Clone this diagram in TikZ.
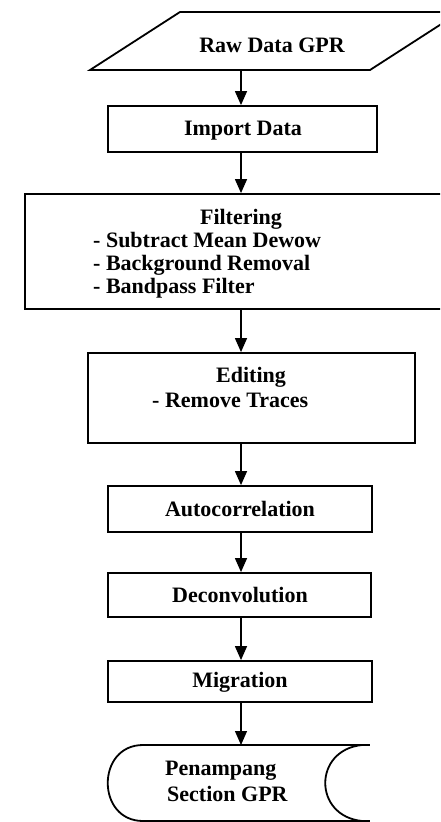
\documentclass[tikz,border=0pt]{standalone}
\usepackage{fontspec}
\setmainfont{Liberation Serif}
\usetikzlibrary{arrows.meta}
\begin{document}
\begin{tikzpicture}[x=1pt,y=-1pt,
  box/.style={draw, line width=1.8pt, inner sep=0pt, rectangle},
  lbl/.style={font=\fontsize{22}{25}\selectfont\bfseries, inner sep=0pt},
  arr/.style={line width=1.3pt, -{Triangle[length=14pt,width=12pt]}},
  shp/.style={line width=1.8pt}]
\useasboundingbox (0,0) rectangle (440,822);
\fill[white] (0,0) rectangle (440,822);
\clip (0,0) rectangle (440,822);
\coordinate (axis) at (241,0);
% input parallelogram
\draw[shp] (90,70) -- (180,12) -- (460,12) -- (370,70) -- cycle;
\coordinate (rawbot) at (241,70);
\node[lbl, anchor=base] (raw) at (272,52) {Raw Data GPR};
% boxes
\node[box, minimum width=269pt, minimum height=46pt] (import) at (242.5,129) {};
\node[lbl, anchor=base] (importt) at (243,135) {Import Data};
\node[box, minimum width=434pt, minimum height=115pt] (filter) at (242,251.5) {};
\node[lbl, anchor=base] (filtert) at (241,224) {Filtering};
\node[lbl, anchor=base west] (f1) at (93,247) {- Subtract Mean Dewow};
\node[lbl, anchor=base west] (f2) at (93,270) {- Background Removal};
\node[lbl, anchor=base west] (f3) at (93,293) {- Bandpass Filter};
\node[box, minimum width=327pt, minimum height=90pt] (edit) at (251.5,398) {};
\node[lbl, anchor=base] (editt) at (251,382) {Editing};
\node[lbl, anchor=base west] (e1) at (152,407) {- Remove Traces};
\node[box, minimum width=264pt, minimum height=46pt] (auto) at (240,509) {};
\node[lbl, anchor=base] (autot) at (240,516) {Autocorrelation};
\node[box, minimum width=263pt, minimum height=44pt] (deconv) at (239.5,595) {};
\node[lbl, anchor=base] (deconvt) at (240,602) {Deconvolution};
\node[box, minimum width=264pt, minimum height=41pt] (migr) at (240,681.5) {};
\node[lbl, anchor=base] (migrt) at (240,687) {Migration};
% stored data shape
\draw[shp] (143,745) -- (370,745);
\draw[shp] (143,821) -- (370,821);
\draw[shp] (143,745) .. controls (96,745) and (96,821) .. (143,821);
\draw[shp] (362,745) .. controls (313,750) and (313,816) .. (362,821);
\coordinate (store) at (241,745);
\node[lbl, anchor=base west] (s1) at (165,775) {Penampang};
\node[lbl, anchor=base west] (s2) at (167,801) {Section GPR};
% connectors
\draw[arr] (rawbot) -- (import.north -| axis);
\draw[arr] (import.south -| axis) -- (filter.north -| axis);
\draw[arr] (filter.south -| axis) -- (edit.north -| axis);
\draw[arr] (edit.south -| axis) -- (auto.north -| axis);
\draw[arr] (auto.south -| axis) -- (deconv.north -| axis);
\draw[arr] (deconv.south -| axis) -- (migr.north -| axis);
\draw[arr] (migr.south -| axis) -- (store);
\end{tikzpicture}
\end{document}
